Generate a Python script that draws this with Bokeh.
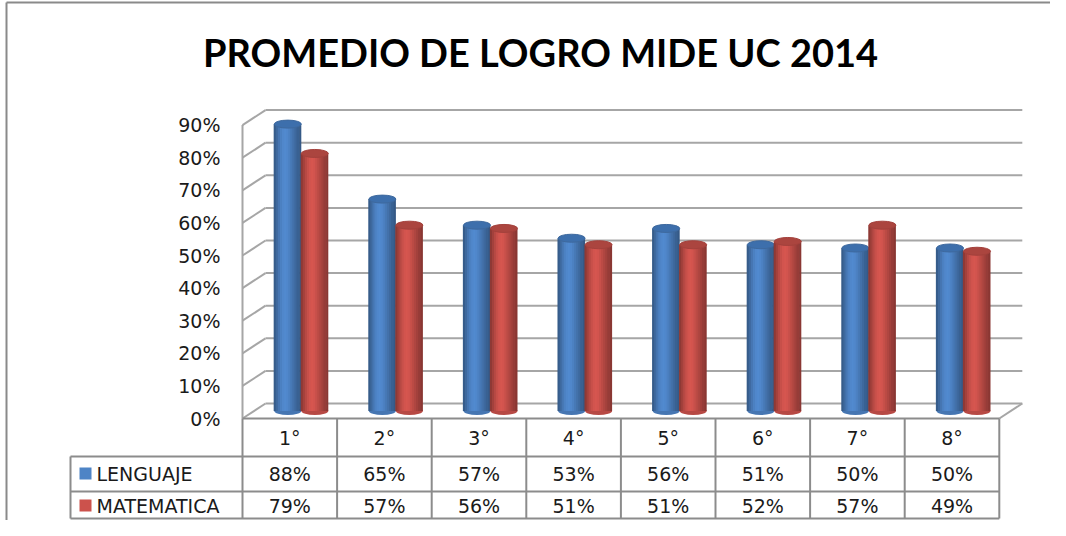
from bokeh.plotting import figure
from bokeh.models import Range1d, ColumnDataSource
from bokeh.core.properties import value
from bokeh.embed import file_html
from bokeh.resources import INLINE

# ---------------- data ----------------
title_text = "PROMEDIO DE LOGRO MIDE UC 2014"
categories = ["1°", "2°", "3°", "4°", "5°", "6°", "7°", "8°"]
series_names = ["LENGUAJE", "MATEMATICA"]
lenguaje = [88, 65, 57, 53, 56, 51, 50, 50]
matematica = [79, 57, 56, 51, 51, 52, 57, 49]
y_ticks = [0, 10, 20, 30, 40, 50, 60, 70, 80, 90]
tick_labels = ["0%", "10%", "20%", "30%", "40%", "50%", "60%", "70%", "80%", "90%"]

# ---------------- layout (pixels, reference coordinates) ----------------
W, H = 1050, 520
OX, OY = 0, 0          # canvas origin in reference pixel coordinates
CAT_W = 94.6           # px per category column
PCT = 3.26             # px per percent
AXIS_RX = 242          # x of front-left axis
BASE_RY = 418          # y of 0% front line
DEPTH_X = 23 / CAT_W
DEPTH_Y = 15 / PCT
BAR_W = 27 / CAT_W
ELL_H = 8 / PCT
PAIR_DX = 11.5 / CAT_W
BAR_BASE = 7.5 / PCT


def px_x(rx):
    return (rx - AXIS_RX) / CAT_W


def px_y(ry):
    return (BASE_RY - ry) / PCT


GRID_COL = "#a6a6a6"
TABLE_COL = "#8c8c8c"
TXT_COL = "#1a1a1a"
FONT = value("DejaVu Sans")
FSIZE = "19px"

p = figure(width=W, height=H, x_range=Range1d(px_x(OX), px_x(OX + W)),
           y_range=Range1d(px_y(OY + H), px_y(OY)),
           x_axis_location=None, y_axis_location=None,
           output_backend="svg", toolbar_location=None, min_border=0)
p.xgrid.visible = False
p.ygrid.visible = False
p.outline_line_color = None
p.background_fill_color = "white"
p.border_fill_color = "white"

# chart border (left and top)
p.segment(x0=[px_x(6), px_x(6)], y0=[px_y(2), px_y(2)],
          x1=[px_x(6), px_x(OX + W)], y1=[px_y(OY + H), px_y(2)],
          line_color="#8a8a8a", line_width=2)

ncat = len(categories)

# ---------------- walls / grid ----------------
p.segment(x0=[DEPTH_X] * len(y_ticks), y0=[t + DEPTH_Y for t in y_ticks],
          x1=[ncat + DEPTH_X] * len(y_ticks), y1=[t + DEPTH_Y for t in y_ticks],
          line_color=GRID_COL, line_width=2)
p.segment(x0=[0] * len(y_ticks), y0=y_ticks,
          x1=[DEPTH_X] * len(y_ticks), y1=[t + DEPTH_Y for t in y_ticks],
          line_color=GRID_COL, line_width=2)
p.segment(x0=[0], y0=[0], x1=[0], y1=[y_ticks[-1]], line_color=GRID_COL, line_width=2)
p.segment(x0=[ncat], y0=[0], x1=[ncat + DEPTH_X], y1=[DEPTH_Y],
          line_color=GRID_COL, line_width=2)

p.text(x=[px_x(220)] * len(y_ticks), y=y_ticks, text=tick_labels,
       text_align="right", text_baseline="middle", text_font=FONT,
       text_font_size=FSIZE, text_color=TXT_COL)


# ---------------- cylinders ----------------
def shade(rgb, f):
    return "#%02x%02x%02x" % tuple(max(0, min(255, int(c * f))) for c in rgb)


profile = [0.70, 0.80, 0.90, 0.98, 1.03, 1.05, 1.03, 0.98, 0.92, 0.86, 0.80, 0.74, 0.68]
series_vals = [lenguaje, matematica]
base_rgb = [(78, 132, 198), (204, 82, 76)]
top_cols = ["#3d6fac", "#ab453f"]
NS = len(profile)

for s, vals in enumerate(series_vals):
    cxs = [i + 0.5 + PAIR_DX + (s - 0.5) * BAR_W for i in range(ncat)]
    tops = [v + BAR_BASE for v in vals]
    p.ellipse(x=cxs, y=[BAR_BASE] * ncat, width=BAR_W, height=ELL_H,
              fill_color=shade(base_rgb[s], 0.9), line_color=None)
    xs, ws, ts, bs, cs = [], [], [], [], []
    for i in range(ncat):
        for k in range(NS):
            xs.append(cxs[i] - BAR_W / 2 + (k + 0.5) * BAR_W / NS)
            ws.append(BAR_W / NS * (1.6 if k < NS - 1 else 1.0))
            ts.append(tops[i])
            bs.append(BAR_BASE)
            cs.append(shade(base_rgb[s], profile[k]))
    src = ColumnDataSource(dict(x=xs, w=ws, t=ts, b=bs, c=cs))
    p.vbar(x="x", width="w", top="t", bottom="b", fill_color="c", line_color=None, source=src)
    p.ellipse(x=cxs, y=tops, width=BAR_W, height=ELL_H,
              fill_color=top_cols[s], line_color=shade(base_rgb[s], 0.8), line_width=1)

# ---------------- data table ----------------
y_hdr_bot = px_y(456)
y_row1_bot = px_y(491)
y_row2_bot = px_y(518)
x_leg = px_x(70)

p.segment(x0=[0, x_leg, x_leg, x_leg], y0=[0, y_hdr_bot, y_row1_bot, y_row2_bot],
          x1=[ncat] * 4, y1=[0, y_hdr_bot, y_row1_bot, y_row2_bot],
          line_color=TABLE_COL, line_width=2)
p.segment(x0=list(range(ncat + 1)) + [x_leg], y0=[0] * (ncat + 1) + [y_hdr_bot],
          x1=list(range(ncat + 1)) + [x_leg], y1=[y_row2_bot] * (ncat + 2),
          line_color=TABLE_COL, line_width=2)

cx_cells = [i + 0.5 for i in range(ncat)]
p.text(x=cx_cells, y=[(0 + y_hdr_bot) / 2] * ncat, text=categories,
       text_align="center", text_baseline="middle", text_font=FONT,
       text_font_size=FSIZE, text_color=TXT_COL)
row_y = [px_y(473), px_y(505)]
for s, vals in enumerate(series_vals):
    p.text(x=cx_cells, y=[row_y[s]] * ncat, text=["%d%%" % v for v in vals],
           text_align="center", text_baseline="middle", text_font=FONT,
           text_font_size=FSIZE, text_color=TXT_COL)

p.scatter(x=[px_x(85)] * 2, y=row_y, marker="square", size=12,
          fill_color=[shade(base_rgb[0], 1.0), shade(base_rgb[1], 1.0)], line_color=None)
p.text(x=[px_x(96)] * 2, y=row_y, text=series_names, text_align="left",
       text_baseline="middle", text_font=FONT, text_font_size=FSIZE, text_color=TXT_COL)

# ---------------- title ----------------
p.text(x=[px_x(540)], y=[px_y(51)], text=[title_text], text_align="center",
       text_baseline="middle", text_font=value("Lato"), text_font_style="bold",
       text_font_size="38px", text_color="#000000")

open("out.html", "w").write(file_html(p, INLINE))
